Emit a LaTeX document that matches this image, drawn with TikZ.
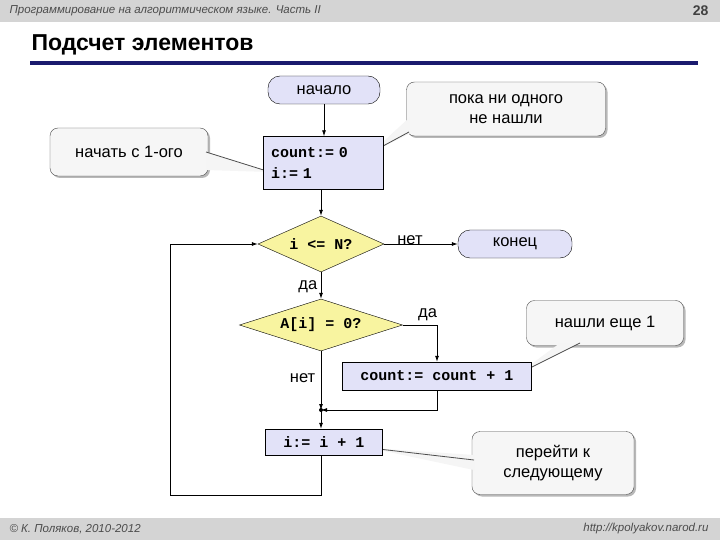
\documentclass[tikz,border=0pt]{standalone}
\usepackage{fontspec}
\setmainfont{Liberation Sans}
\newfontfamily\codef{Liberation Mono}
\usetikzlibrary{shapes.geometric,shadows,arrows.meta}
\definecolor{lav}{HTML}{E2E2F8}
\definecolor{yel}{HTML}{F8F4A0}
\definecolor{hdr}{HTML}{D4D4D4}
\definecolor{dblue}{HTML}{1A1A6E}
\begin{document}
\begin{tikzpicture}[x=1pt,y=-1pt,
  txt/.style={font=\fontsize{16.5}{20}\selectfont},
  code/.style={font=\codef\bfseries\fontsize{15}{18}\selectfont},
  term/.style={draw,rounded corners=12pt,fill=lav,txt,minimum height=28pt,inner sep=0pt},
  proc/.style={draw,fill=lav,code,inner sep=0pt},
  dec/.style={draw,diamond,fill=yel,code,aspect=2.3,inner sep=0pt},
  call/.style={draw=black!70,rounded corners=8pt,fill=gray!7,txt,align=center,inner sep=0pt,drop shadow={shadow xshift=2pt,shadow yshift=-2pt,fill=black!55}},
  arr/.style={-{Latex[length=6pt,width=4pt]}},
  line/.style={line width=0.8pt}]
\useasboundingbox (0,0) rectangle (720,540);
\fill[white] (0,0) rectangle (720,540);
% header/footer
\fill[hdr] (0,0) rectangle (720,22);
\node[anchor=west,font=\itshape\fontsize{11.5}{13}\selectfont,text=black!70] (h1) at (6,11) {Программирование на алгоритмическом языке. Часть II};
\node[anchor=east,font=\bfseries\fontsize{14}{15}\selectfont,text=black!75] (h2) at (712,11) {28};
\node[anchor=west,font=\bfseries\fontsize{23}{26}\selectfont] (t) at (28,45) {Подсчет элементов};
\fill[dblue] (30,61) rectangle (698,65);
\fill[hdr] (0,518) rectangle (720,540);
\node[anchor=west,font=\itshape\fontsize{11.5}{13}\selectfont,text=black!70] (f1) at (6,529) {© К. Поляков, 2010-2012};
\node[anchor=east,font=\itshape\fontsize{11.5}{13}\selectfont,text=black!70] (f2) at (712,529) {http://kpolyakov.narod.ru};
% callouts
\node[call,minimum width=199pt,minimum height=54pt] (c1) at (506,109) {пока ни одного\\не нашли};
\node[call,minimum width=158pt,minimum height=48pt] (c2) at (129,152) {начать с 1-ого};
\node[call,minimum width=157pt,minimum height=45pt] (c3) at (605,323) {нашли еще 1};
\node[call,minimum width=162pt,minimum height=63pt] (c4) at (553,463) {перейти к\\следующему};
\coordinate (p1) at (372,152);
\coordinate (p2) at (270,172);
\coordinate (p3) at (518,374);
\coordinate (p4) at (370,448);
\fill[gray!8] (409,118) -- (p1) -- (409,134) -- cycle;
\draw[black!70,line width=0.8pt] (409,132) -- (p1);
\fill[gray!8] (206,152) -- (p2) -- (206,170) -- cycle;
\draw[black!70,line width=0.8pt] (206,152) -- (p2);
\fill[gray!8] (560,343) -- (p3) -- (580,343) -- cycle;
\draw[black!70,line width=0.8pt] (580,343) -- (p3);
\fill[gray!8] (474,455) -- (p4) -- (474,470) -- cycle;
\draw[black!70,line width=0.8pt] (474,460) -- (p4);
% flowchart
\node[term,minimum width=112pt] (start) at (324,90) {начало};
\node[proc,minimum width=120pt,minimum height=53pt,align=left,text width=104pt] (init) at (323,163) {count:= 0\\[3pt]i:= 1};
\node[dec,minimum width=126pt,minimum height=56pt] (d1) at (321,244) {i <= N?};
\node[term,minimum width=114pt] (end) at (515,244) {конец};
\node[dec,minimum width=163pt,minimum height=52pt] (d2) at (321,325) {A[i] = 0?};
\node[proc,minimum width=189pt,minimum height=28pt] (inc) at (437,376) {count:= count + 1};
\node[proc,minimum width=117pt,minimum height=26pt] (step) at (324,442) {i:= i + 1};
\coordinate (j) at (321,410);
\coordinate (bl) at (170,495);
\coordinate (br) at (321,495);
\fill (j) circle (2pt);
\draw[line,arr] (start) -- (init.north -| start);
\draw[line,arr] (init.south -| d1) -- (d1.north);
\draw[line,arr] (d1.east) -- node[above,txt,pos=0.35,yshift=-4pt] {нет} (end.west);
\draw[line,arr] (d1.south) -- node[left,txt,pos=0.55] {да} (d2.north);
\draw[line,arr] (d2.east) -- node[above right,txt,pos=0.4,xshift=-2pt] {да} (d2.east -| inc) -- (inc.north);
\draw[line,arr] (d2.south) -- node[left,txt,pos=0.45,xshift=-2pt] {нет} (j);
\draw[line,arr] (inc.south) |- (j);
\draw[line,arr] (j) -- (step.north -| j);
\draw[line,arr] (step.south -| br) -- (br) -- (bl) |- (d1.west);
\end{tikzpicture}
\end{document}
